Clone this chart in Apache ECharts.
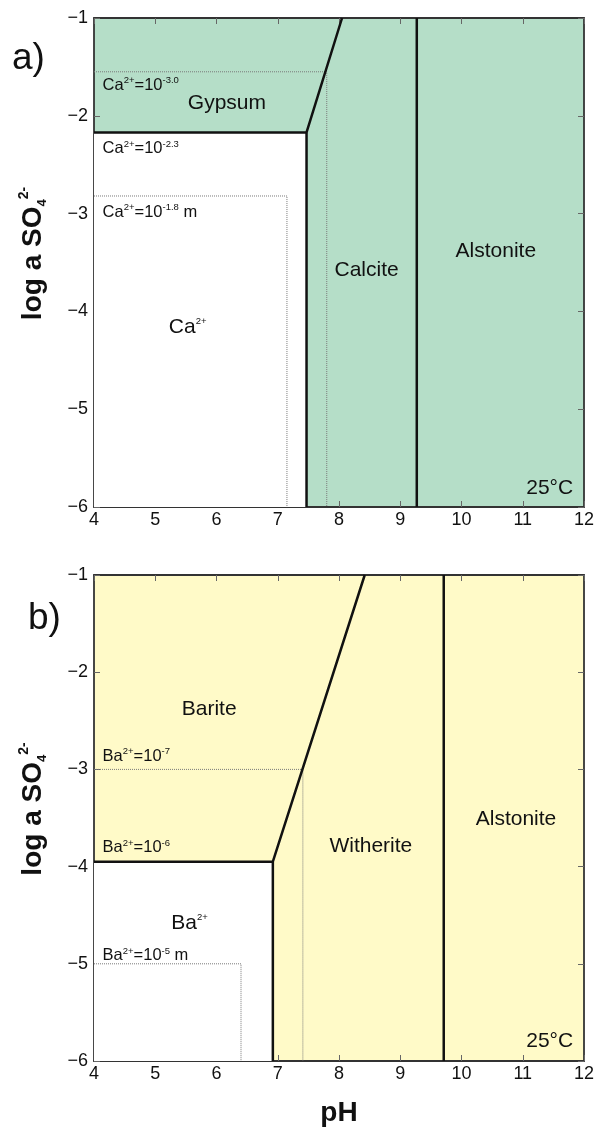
<!DOCTYPE html>
<html>
<head>
<meta charset="utf-8">
<script src="https://cdn.jsdelivr.net/npm/echarts@6/dist/echarts.min.js"></script>
<style>html,body{margin:0;padding:0;background:#fff}#c{width:600px;height:1128px}</style>
</head>
<body>
<div id="c"></div>
<script>
// ---- Data (pH, log a SO4) ----
const phRange = [4, 12];
const logRange = [-6, -1];
// panel a (Ca)
const caField = [[4,-2.17],[7.47,-2.17],[7.47,-6],[4,-6]];
const caGypsumBoundary = [[4,-2.17],[7.47,-2.17],[8.05,-1]];
const caCalciteBoundary = [[7.47,-2.17],[7.47,-6]];
const caAlstoniteBoundary = [[9.27,-1],[9.27,-6]];
const caDot30 = [[4,-1.55],[7.8,-1.55],[7.8,-6]];
const caDot18 = [[4,-2.82],[7.15,-2.82],[7.15,-6]];
const caLabels = [
  {name:'{n|Ca}{s|2+}{n|=10}{s|-3.0}', pos:[4.14,-1.68], anchor:'left'},
  {name:'{m|Gypsum}', pos:[6.17,-1.87], anchor:'center'},
  {name:'{n|Ca}{s|2+}{n|=10}{s|-2.3}', pos:[4.14,-2.33], anchor:'left'},
  {name:'{n|Ca}{s|2+}{n|=10}{s|-1.8}{n| m}', pos:[4.14,-2.98], anchor:'left'},
  {name:'{m|Ca}{s|2+}', pos:[5.53,-4.16], anchor:'center'},
  {name:'{m|Calcite}', pos:[8.45,-3.57], anchor:'center'},
  {name:'{m|Alstonite}', pos:[10.56,-3.38], anchor:'center'},
  {name:'{m|25°C}', pos:[11.44,-5.8], anchor:'center'}
];
// panel b (Ba)
const baField = [[4,-3.95],[6.92,-3.95],[6.92,-6],[4,-6]];
const baBariteBoundary = [[4,-3.95],[6.92,-3.95],[8.42,-1]];
const baWitheriteBoundary = [[6.92,-3.95],[6.92,-6]];
const baAlstoniteBoundary = [[9.71,-1],[9.71,-6]];
const baDot7 = [[4,-3],[7.41,-3],[7.41,-6]];
const baDot5 = [[4,-5],[6.4,-5],[6.4,-6]];
const baLabels = [
  {name:'{m|Barite}', pos:[5.88,-2.38], anchor:'center'},
  {name:'{n|Ba}{s|2+}{n|=10}{s|-7}', pos:[4.14,-2.86], anchor:'left'},
  {name:'{n|Ba}{s|2+}{n|=10}{s|-6}', pos:[4.14,-3.8], anchor:'left'},
  {name:'{m|Witherite}', pos:[8.52,-3.79], anchor:'center'},
  {name:'{m|Alstonite}', pos:[10.89,-3.51], anchor:'center'},
  {name:'{m|Ba}{s|2+}', pos:[5.56,-4.58], anchor:'center'},
  {name:'{n|Ba}{s|2+}{n|=10}{s|-5}{n| m}', pos:[4.14,-4.91], anchor:'left'},
  {name:'{m|25°C}', pos:[11.44,-5.79], anchor:'center'}
];

const FONT = '"Liberation Sans", Arial, sans-serif';
const GREEN = '#b5dec8';
const YELLOW = '#fffac8';
const INK = '#111111';
const rich = {
  n:{fontSize:16.5, fontFamily:FONT, color:INK, lineHeight:18, verticalAlign:'bottom'},
  m:{fontSize:21, fontFamily:FONT, color:INK, lineHeight:22, verticalAlign:'bottom'},
  s:{fontSize:9.5, fontFamily:FONT, color:INK, lineHeight:11, verticalAlign:'top'}
};
const minusFmt = v => (v < 0 ? '\u2212' + Math.abs(v) : String(v));

function axesFor(gi, showName) {
  const axisLine = {show:true, lineStyle:{color:'#333', width:1.8}};
  const tick = {show:true, inside:true, length:6, lineStyle:{color:'#666', width:1}};
  const xs = [
    {gridIndex:gi, type:'value', min:phRange[0], max:phRange[1], interval:1, position:'bottom',
     axisLine, axisTick:tick, splitLine:{show:false},
     axisLabel:{fontSize:18, fontFamily:FONT, color:INK, margin:4},
     name: showName ? 'pH' : '', nameLocation:'middle', nameGap:38,
     nameTextStyle:{fontSize:28, fontWeight:'bold', fontFamily:FONT, color:INK}},
    {gridIndex:gi, type:'value', min:phRange[0], max:phRange[1], interval:1, position:'top',
     axisLine, axisTick:tick, splitLine:{show:false}, axisLabel:{show:false}}
  ];
  const ys = [
    {gridIndex:gi, type:'value', min:logRange[0], max:logRange[1], interval:1, position:'left',
     axisLine, axisTick:tick, splitLine:{show:false},
     axisLabel:{fontSize:18, fontFamily:FONT, color:INK, margin:6, formatter:minusFmt},
     name:'{b|log a SO}{sub|4}{sup|2-}', nameLocation:'middle', nameRotate:90, nameGap:45,
     nameTextStyle:{padding:[0,0,0,18], rich:{
       b:{fontSize:28, fontWeight:'bold', fontFamily:FONT, color:INK, lineHeight:32, verticalAlign:'middle'},
       sub:{fontSize:13, fontWeight:'bold', fontFamily:FONT, color:INK, lineHeight:13, verticalAlign:'bottom'},
       sup:{fontSize:14, fontWeight:'bold', fontFamily:FONT, color:INK, lineHeight:14, verticalAlign:'top'}
     }}},
    {gridIndex:gi, type:'value', min:logRange[0], max:logRange[1], interval:1, position:'right',
     axisLine, axisTick:tick, splitLine:{show:false}, axisLabel:{show:false}}
  ];
  return {xs, ys};
}
const a0 = axesFor(0, false), a1 = axesFor(1, true);

function polySeries(xi, yi, pts) {
  return {type:'custom', xAxisIndex:xi, yAxisIndex:yi, data:[0], silent:true, z:1,
    renderItem:(params, api) => ({type:'polygon',
      shape:{points: pts.map(p => api.coord(p))},
      style:{fill:'#ffffff'}})};
}
function lineSeries(xi, yi, pts, solid) {
  return {type:'line', xAxisIndex:xi, yAxisIndex:yi, data:pts, symbol:'none', silent:true,
    z: solid ? 4 : 3, animation:false,
    lineStyle: solid ? {color:'#111', width:2.5} : {color:'#7a7a7a', width:1, type:'dotted'}};
}
function labelSeries(xi, yi, labels) {
  return {type:'scatter', xAxisIndex:xi, yAxisIndex:yi, symbolSize:0, silent:true, z:6,
    itemStyle:{opacity:1},
    data: labels.map(l => ({value:l.pos, label:{show:true, formatter:l.name, rich,
      color:INK, opacity:1, textBorderWidth:0,
      position: l.anchor === 'left' ? 'right' : 'inside', distance:0}}))};
}

const chart = echarts.init(document.getElementById('c'), null, {renderer:'canvas'});
chart.setOption({
  animation:false,
  backgroundColor:'#ffffff',
  grid:[
    {left:94, right:16, top:18, height:489, show:true, backgroundColor:GREEN, borderWidth:0},
    {left:94, right:16, top:575, height:488, show:true, backgroundColor:YELLOW, borderWidth:0}
  ],
  xAxis:[...a0.xs, ...a1.xs],
  yAxis:[...a0.ys, ...a1.ys],
  graphic:[
    {type:'text', left:12, top:40, style:{text:'a)', font:'37px "Liberation Sans", Arial, sans-serif', fill:INK}},
    {type:'text', left:28, top:600, style:{text:'b)', font:'37px "Liberation Sans", Arial, sans-serif', fill:INK}}
  ],
  series:[
    polySeries(0, 0, caField),
    lineSeries(0, 0, caDot30, false),
    lineSeries(0, 0, caDot18, false),
    lineSeries(0, 0, caGypsumBoundary, true),
    lineSeries(0, 0, caCalciteBoundary, true),
    lineSeries(0, 0, caAlstoniteBoundary, true),
    labelSeries(0, 0, caLabels),
    polySeries(2, 2, baField),
    lineSeries(2, 2, baDot7, false),
    lineSeries(2, 2, baDot5, false),
    lineSeries(2, 2, baBariteBoundary, true),
    lineSeries(2, 2, baWitheriteBoundary, true),
    lineSeries(2, 2, baAlstoniteBoundary, true),
    labelSeries(2, 2, baLabels)
  ]
});
</script>
</body>
</html>
